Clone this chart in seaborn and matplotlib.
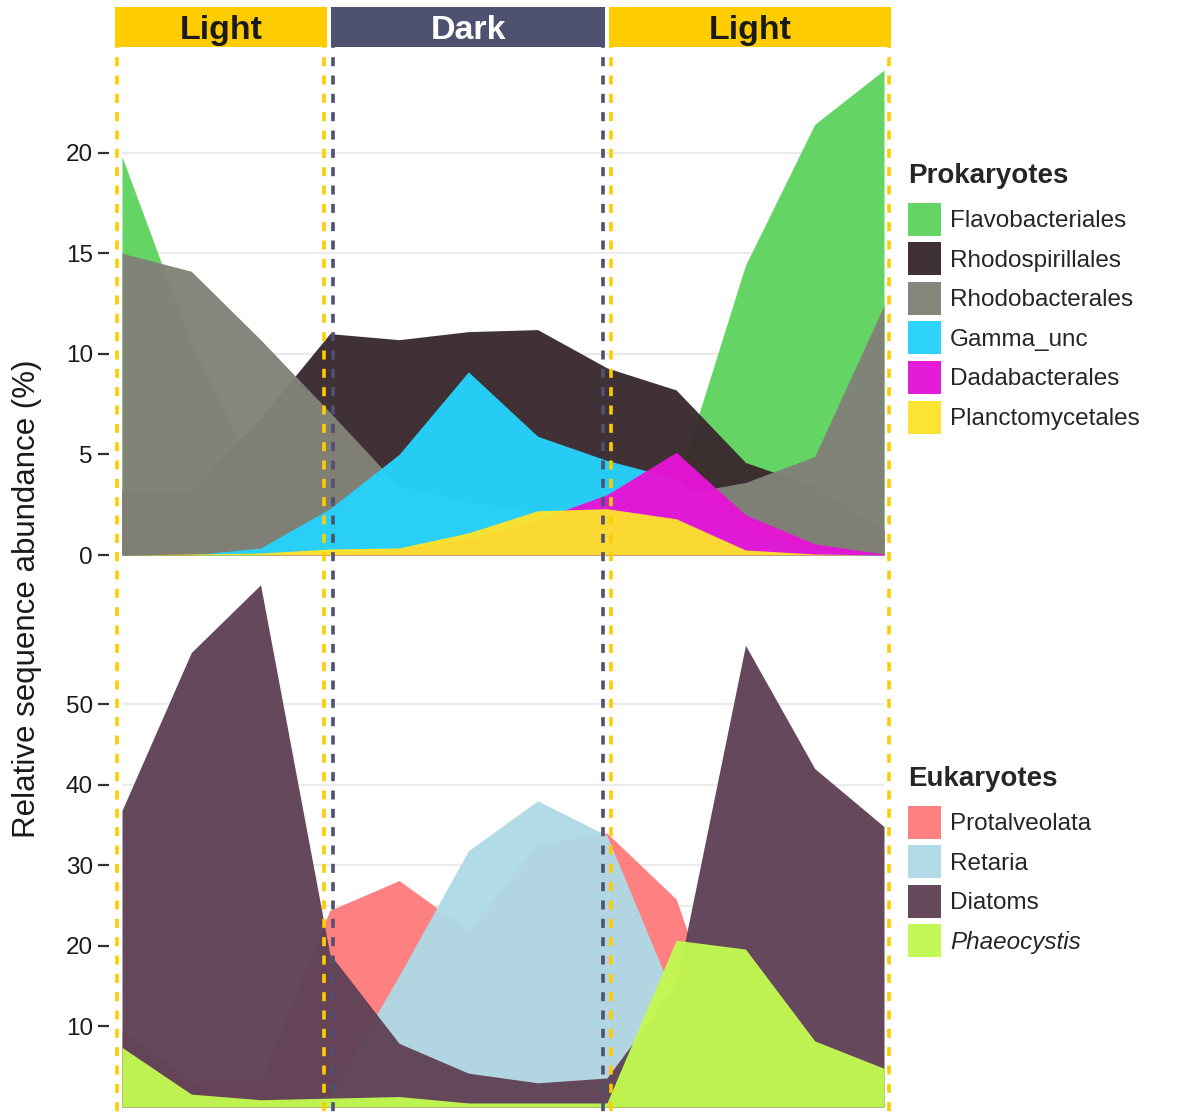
import matplotlib
matplotlib.use("Agg")
import matplotlib.pyplot as plt
import matplotlib.transforms as mtransforms
from matplotlib.patches import Patch, Rectangle
from matplotlib.lines import Line2D
import pandas as pd
import seaborn as sns

# ---- data (relative sequence abundance, %) ----
timepoints = list(range(12))

prok_names = ["Flavobacteriales", "Rhodospirillales", "Rhodobacterales",
              "Gamma_unc", "Dadabacterales", "Planctomycetales"]
flavobacteriales = [19.8, 10.5, 3.5, 1.5, 1.0, 0.8, 0.8, 1.2, 3.4, 14.4, 21.4, 24.1]
rhodospirillales = [3.2, 3.2, 6.8, 11.0, 10.7, 11.1, 11.2, 9.3, 8.2, 4.6, 3.4, 1.2]
rhodobacterales = [15.0, 14.1, 10.7, 7.1, 3.4, 2.6, 2.1, 1.9, 3.0, 3.6, 4.9, 12.4]
gamma_unc = [0.0, 0.0, 0.35, 2.3, 5.0, 9.1, 5.9, 4.7, 3.8, 1.2, 0.3, 0.0]
dadabacterales = [0.0, 0.0, 0.0, 0.1, 0.3, 0.8, 1.75, 3.0, 5.1, 2.0, 0.55, 0.05]
planctomycetales = [0.0, 0.05, 0.1, 0.3, 0.35, 1.1, 2.2, 2.3, 1.8, 0.25, 0.05, 0.0]

euk_names = ["Protalveolata", "Retaria", "Diatoms", "Phaeocystis"]
protalveolata = [9.5, 3.2, 3.5, 24.4, 28.1, 21.9, 32.7, 34.0, 25.8, 1.0, 0.8, 0.5]
retaria = [0.5, 0.5, 0.8, 1.4, 16.3, 31.8, 38.0, 33.7, 13.0, 3.0, 1.0, 0.5]
diatoms = [36.8, 56.4, 64.8, 19.0, 7.9, 4.2, 3.0, 3.6, 15.2, 57.3, 42.0, 34.8]
phaeocystis = [7.4, 1.6, 0.9, 1.1, 1.3, 0.5, 0.5, 0.5, 20.7, 19.6, 8.2, 4.8]

period_labels = ["Light", "Dark", "Light"]
period_start = [-0.07, 3.05, 7.06]
period_end = [2.92, 6.94, 11.07]

prok = pd.DataFrame(dict(zip(prok_names, [flavobacteriales, rhodospirillales, rhodobacterales,
                                          gamma_unc, dadabacterales, planctomycetales])),
                    index=timepoints)
euk = pd.DataFrame(dict(zip(euk_names, [protalveolata, retaria, diatoms, phaeocystis])),
                   index=timepoints)

prok_colors = sns.color_palette(["#5FD360", "#3A2A2F", "#828278", "#27D2FC", "#E514D6", "#FCE22D"])
euk_colors = sns.color_palette(["#FF7C7C", "#AFDAE6", "#614257", "#C1F950"])
ALPHA = 0.97

# ---- style ----
sns.set_theme(style="whitegrid")
plt.rcParams['font.family'] = ['Liberation Sans', 'DejaVu Sans']
plt.rcParams['lines.scale_dashes'] = False

W, H = 1181, 1114
fig = plt.figure(figsize=(W / 100, H / 100), dpi=100)
ax_top = fig.add_axes([122 / W, 1 - 555 / H, 762 / W, 487 / H])
ax_bot = fig.add_axes([122 / W, 1 - 1107 / H, 762 / W, 523 / H])


def draw_panel(ax, df, colors, ymax, yticks, gridlines):
    for name, col in zip(df.columns, colors):
        ax.fill_between(df.index, 0, df[name], color=col, alpha=ALPHA, linewidth=0, label=name)
    ax.set_xlim(0, 11)
    ax.set_ylim(0, ymax)
    ax.set_yticks(yticks)
    ax.set_yticks(gridlines, minor=True)
    ax.set_xticks([])
    ax.grid(False)
    ax.grid(axis='y', which='both', color='#EBEBEB', linewidth=1.6)
    ax.set_axisbelow(True)
    sns.despine(ax=ax, left=True, bottom=True)
    ax.spines['left'].set_position(('outward', 9.4))
    ax.tick_params(axis='y', which='major', left=True, length=8, width=1.6, color='#333333',
                   pad=3.5, labelsize=17.5, labelcolor='#1A1A1A')
    ax.tick_params(axis='y', which='minor', left=False)
    ax.set_facecolor('white')


draw_panel(ax_top, prok, prok_colors, 24.2, [0, 5, 10, 15, 20], [])
draw_panel(ax_bot, euk, euk_colors, 64.9, [10, 20, 30, 40, 50], [25])

fig.text(27 / W, 1 - 599 / H, "Relative sequence abundance (%)", rotation=90,
         ha='center', va='center', fontsize=22.5, color='#1A1A1A')

# ---- light / dark periods ----
blend = mtransforms.blended_transform_factory(ax_top.transData, fig.transFigure)
head_bottom, head_top = 1 - 47 / H, 1 - 7 / H
for lab, xs, xe in zip(period_labels, period_start, period_end):
    light = lab == "Light"
    col = '#FFCC00' if light else '#4F5170'
    for xv in (xs, xe):
        fig.add_artist(Line2D([xv, xv], [head_bottom + 0.004, 0], transform=blend, color=col,
                              linewidth=2.6, linestyle=(3, (6.5, 6.7)), zorder=5))
    fig.add_artist(Rectangle((xs - 0.035, head_bottom), (xe - xs) + 0.07, head_top - head_bottom,
                             transform=blend, facecolor=col, edgecolor='none', zorder=6))
    fig.text((xs + xe) / 2, 1 - 39 / H, lab, transform=blend,
             ha='center', va='baseline', fontsize=24.5, fontweight='bold',
             color='#1A1A1A' if light else 'white', zorder=7)

# ---- legends ----
common = dict(loc='upper left', bbox_transform=fig.transFigure, frameon=False, fontsize=17.5,
              title_fontproperties={'weight': 'bold', 'size': 20}, handlelength=1.36,
              handleheight=1.71, handletextpad=0.37, labelspacing=0.27, borderpad=0,
              borderaxespad=0, alignment='left')
h1 = [Patch(facecolor=c, alpha=ALPHA, edgecolor='none', label=n) for n, c in zip(prok_names, prok_colors)]
leg1 = ax_top.legend(handles=h1, title="Prokaryotes", bbox_to_anchor=(908 / W, 1 - 163 / H), **common)
h2 = [Patch(facecolor=c, alpha=ALPHA, edgecolor='none', label=n) for n, c in zip(euk_names, euk_colors)]
leg2 = ax_bot.legend(handles=h2, title="Eukaryotes", bbox_to_anchor=(908 / W, 1 - 766 / H), **common)
leg2.get_texts()[3].set_style('italic')
# a little more room between legend title and keys
for leg in (leg1, leg2):
    leg._legend_box.sep = 10

fig.savefig("out.png", dpi=100, facecolor='white')
